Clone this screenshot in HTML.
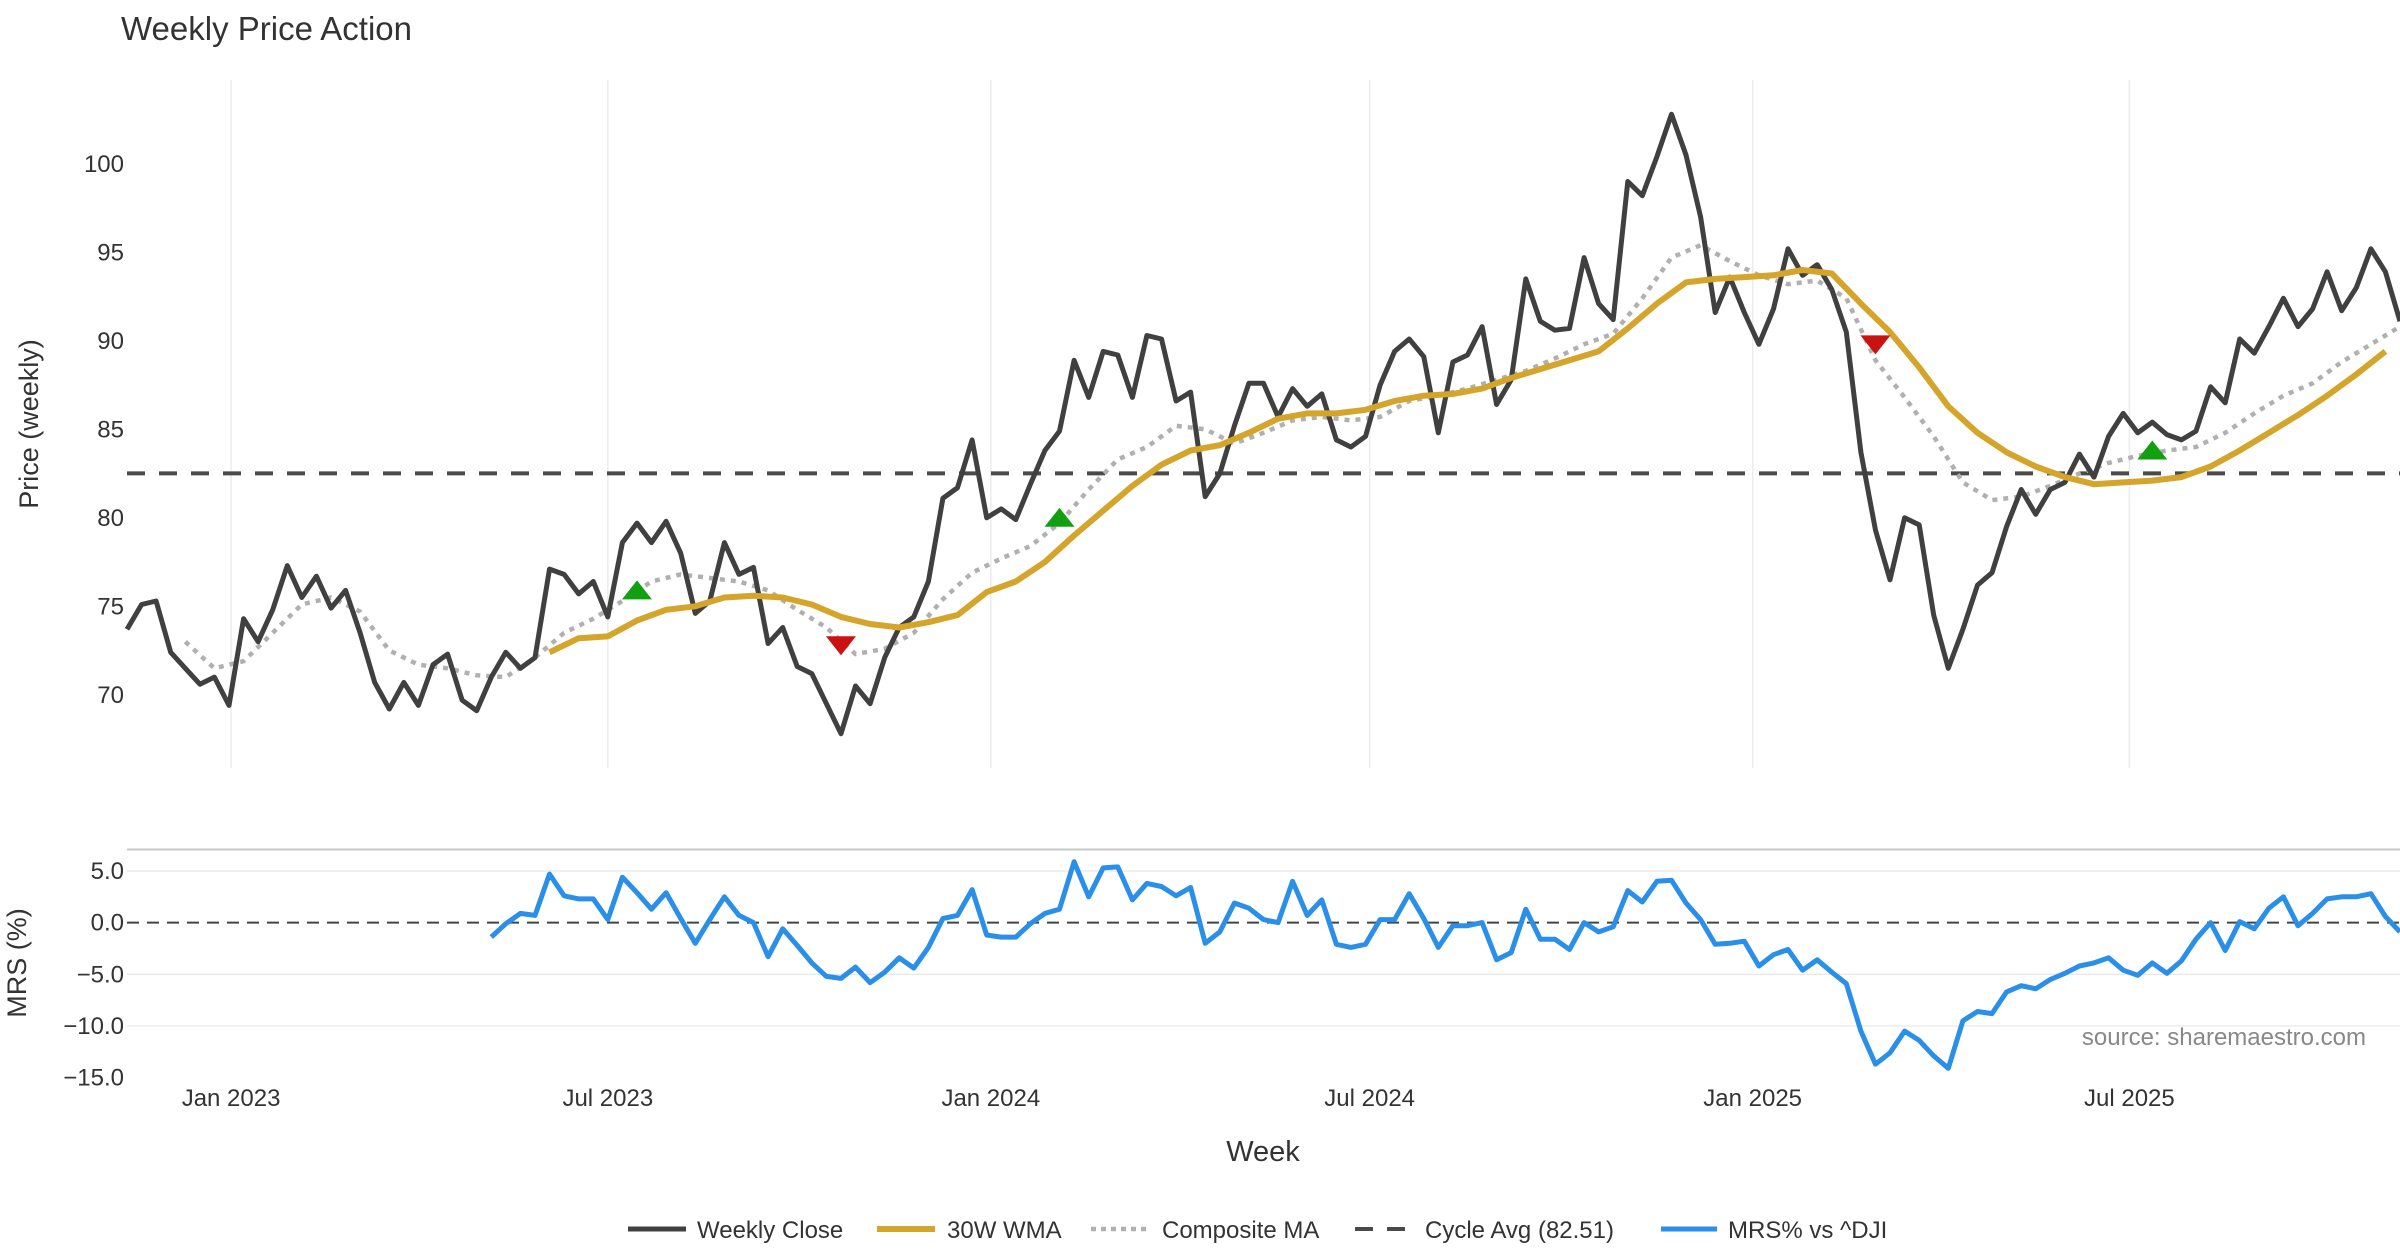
<!DOCTYPE html>
<html><head><meta charset="utf-8"><style>
html,body{margin:0;padding:0;background:#fff;}
svg{display:block;font-family:"Liberation Sans","DejaVu Sans",sans-serif;}
</style></head><body>
<svg id="chart" width="2400" height="1260" viewBox="0 0 2400 1260" xmlns="http://www.w3.org/2000/svg">
<rect width="2400" height="1260" fill="#fff"/>
<text x="121" y="40" font-size="33" fill="#333">Weekly Price Action</text>
<g id="grid"></g>
<g id="topPanel"></g>
<g id="bottomPanel"></g>
<text transform="translate(38,424) rotate(-90)" text-anchor="middle" font-size="27" fill="#333">Price (weekly)</text>
<text transform="translate(26,963) rotate(-90)" text-anchor="middle" font-size="27" fill="#333">MRS (%)</text>
<text x="1263" y="1161" text-anchor="middle" font-size="29" fill="#333">Week</text>
<text x="2366" y="1045" text-anchor="end" font-size="24" fill="#888">source: sharemaestro.com</text>
<g id="legend">
<g><line x1="628" y1="1229" x2="686" y2="1229" stroke="#404040" stroke-width="5"/><text x="697" y="1238" font-size="24" fill="#333">Weekly Close</text></g>
<g><line x1="877" y1="1229" x2="935" y2="1229" stroke="#d4a52a" stroke-width="6"/><text x="947" y="1238" font-size="24" fill="#333">30W WMA</text></g>
<g><line x1="1091" y1="1229" x2="1146" y2="1229" stroke="#b0b0b0" stroke-width="4.5" stroke-dasharray="5 5"/><text x="1162" y="1238" font-size="24" fill="#333">Composite MA</text></g>
<g><line x1="1355" y1="1229" x2="1410" y2="1229" stroke="#4a4a4a" stroke-width="4" stroke-dasharray="18 14"/><text x="1425" y="1238" font-size="24" fill="#333">Cycle Avg (82.51)</text></g>
<g><line x1="1661" y1="1229" x2="1717" y2="1229" stroke="#2a8fe8" stroke-width="5"/><text x="1728" y="1238" font-size="24" fill="#333">MRS% vs ^DJI</text></g>
</g>
</svg>
<script>
const closeVals=[73.7,75.1,75.3,72.4,71.5,70.6,71.0,69.4,74.3,73.0,74.8,77.3,75.5,76.7,74.9,75.9,73.5,70.7,69.2,70.7,69.4,71.7,72.3,69.7,69.1,71.0,72.4,71.5,72.1,77.1,76.8,75.7,76.4,74.4,78.6,79.7,78.6,79.8,78.0,74.6,75.3,78.6,76.8,77.2,72.9,73.8,71.6,71.2,69.5,67.8,70.5,69.5,72.1,73.8,74.4,76.4,81.1,81.7,84.4,80.0,80.5,79.9,81.9,83.8,84.9,88.9,86.8,89.4,89.2,86.8,90.3,90.1,86.6,87.1,81.2,82.5,85.2,87.6,87.6,85.7,87.3,86.3,87.0,84.4,84.0,84.6,87.5,89.4,90.1,89.1,84.8,88.8,89.2,90.8,86.4,87.8,93.5,91.1,90.6,90.7,94.7,92.1,91.2,99.0,98.2,100.4,102.8,100.5,97.0,91.6,93.6,91.6,89.8,91.8,95.2,93.7,94.3,92.9,90.5,83.7,79.3,76.5,80.0,79.6,74.5,71.5,73.7,76.2,76.9,79.5,81.6,80.2,81.6,82.0,83.6,82.3,84.6,85.9,84.8,85.4,84.7,84.4,84.9,87.4,86.5,90.1,89.3,90.8,92.4,90.8,91.8,93.9,91.7,93.0,95.2,93.9,91.1];
const wmaStart=29, wmaStep=2;
const wmaVals=[72.4,73.2,73.3,74.2,74.8,75.0,75.5,75.6,75.5,75.1,74.4,74.0,73.8,74.1,74.5,75.8,76.4,77.5,79.0,80.4,81.8,83.0,83.8,84.1,84.8,85.6,85.9,85.9,86.1,86.6,86.9,87.0,87.3,87.9,88.4,88.9,89.4,90.7,92.1,93.3,93.5,93.6,93.7,94.0,93.8,92.1,90.5,88.5,86.3,84.8,83.7,82.9,82.3,81.9,82.0,82.1,82.3,82.9,83.8,84.8,85.8,86.9,88.1,89.4];
const compStart=4, compStep=2;
const compVals=[73.0,71.5,71.9,73.5,75.1,75.5,74.7,72.5,71.7,71.5,71.1,71.0,72.1,73.5,74.3,75.3,76.4,76.8,76.6,76.4,75.9,74.8,73.8,72.3,72.6,73.5,75.4,76.9,77.7,78.4,79.7,81.6,83.3,84.0,85.2,85.0,84.2,84.8,85.5,85.7,85.5,85.7,86.6,86.9,87.3,87.8,88.3,89.0,89.8,90.4,92.4,94.7,95.4,94.5,93.7,93.2,93.4,92.4,88.9,86.8,84.6,82.0,81.0,81.2,81.8,82.5,83.1,83.5,83.8,84.0,84.8,85.9,86.9,87.6,88.8,89.8,90.8];
const cycleAvg=82.51;
const buyIdx=[35,64,139];
const buyVals=[75.9,80.0,83.8];
const sellIdx=[49,120];
const sellVals=[72.8,89.8];
const mrsStart=25;
const mrsVals=[-1.4,-0.1,0.9,0.7,4.7,2.6,2.3,2.3,0.3,4.4,2.9,1.3,2.9,0.4,-2.0,0.3,2.5,0.7,0.0,-3.3,-0.6,-2.2,-3.9,-5.2,-5.4,-4.3,-5.8,-4.8,-3.4,-4.4,-2.4,0.4,0.7,3.2,-1.2,-1.4,-1.4,-0.1,0.9,1.3,5.9,2.5,5.3,5.4,2.2,3.8,3.5,2.6,3.4,-2.0,-0.9,1.9,1.4,0.3,0.0,4.0,0.7,2.2,-2.1,-2.4,-2.1,0.3,0.3,2.8,0.4,-2.4,-0.3,-0.3,0.0,-3.6,-2.9,1.3,-1.6,-1.6,-2.6,0.0,-0.9,-0.4,3.1,2.0,4.0,4.1,1.9,0.3,-2.1,-2.0,-1.8,-4.2,-3.1,-2.6,-4.6,-3.6,-4.8,-5.9,-10.5,-13.7,-12.6,-10.5,-11.4,-12.9,-14.1,-9.5,-8.6,-8.8,-6.7,-6.1,-6.4,-5.5,-4.9,-4.2,-3.9,-3.4,-4.6,-5.1,-3.9,-4.9,-3.7,-1.6,0.0,-2.7,0.1,-0.6,1.4,2.5,-0.3,0.9,2.3,2.5,2.5,2.8,0.6,-0.9];
const priceTicks=[70,75,80,85,90,95,100];
const mrsTicks=[5,0,-5,-10,-15];
const mrsTickLabels=["5.0","0.0","\u22125.0","\u221210.0","\u221215.0"];
const dateTicks=["2023-01-01","2023-07-01","2024-01-01","2024-07-01","2025-01-01","2025-07-01"];
const dateTickLabels=["Jan 2023","Jul 2023","Jan 2024","Jul 2024","Jan 2025","Jul 2025"];

const NS="http://www.w3.org/2000/svg";
const X0=127,X1=2400,N=closeVals.length;
const xIdx=i=>X0+i*(X1-X0)/(N-1);
const startMs=Date.UTC(2023,0,1)-50*864e5;
const xDate=s=>{const d=new Date(s+"T00:00:00Z").getTime();return xIdx((d-startMs)/(7*864e5));};
const yP=v=>163.8+(100-v)*17.70;
const yM=v=>871+(5-v)*10.33;
function mk(tag,attrs,parent){const e=document.createElementNS(NS,tag);for(const k in attrs)e.setAttribute(k,attrs[k]);parent.appendChild(e);return e;}
const gridG=document.getElementById('grid'),topG=document.getElementById('topPanel'),botG=document.getElementById('bottomPanel');

dateTicks.forEach((d,i)=>{const x=xDate(d);
 const g=mk('line',{x1:x,y1:80,x2:x,y2:768,stroke:'#ececf0','stroke-width':1.5},gridG);
 
 
 const t=mk('text',{x:x,y:1106,'text-anchor':'middle','font-size':24,fill:'#333'},gridG);
 t.textContent=dateTickLabels[i];
 
 
});
priceTicks.forEach(v=>{const t=mk('text',{x:124,y:yP(v)+8,'text-anchor':'end','font-size':24,fill:'#333'},topG);
 t.textContent=v;
 
 });
mrsTicks.forEach((v,i)=>{
 if(v!==0&&v>-15){const l=mk('line',{x1:X0,y1:yM(v),x2:X1,y2:yM(v),stroke:'#e6e6e6','stroke-width':1.2},botG);
 
 }
 const t=mk('text',{x:124,y:yM(v)+8,'text-anchor':'end','font-size':24,fill:'#333'},botG);
 t.textContent=mrsTickLabels[i];
 
 });
const sep=mk('line',{x1:X0,y1:849.5,x2:X1,y2:849.5,stroke:'#c8c8c8','stroke-width':2},botG);



function poly(pts,attrs,parent,name){const p=mk('polyline',Object.assign({points:pts.map(p=>p[0].toFixed(1)+','+p[1].toFixed(1)).join(' '),fill:'none','stroke-linejoin':'round'},attrs),parent);
 
 return p;}

const cyc=mk('line',{x1:X0,y1:yP(cycleAvg),x2:X1,y2:yP(cycleAvg),stroke:'#4a4a4a','stroke-width':4,'stroke-dasharray':'18 14'},topG);


poly(compVals.map((v,i)=>[xIdx(compStart+i*compStep),yP(v)]),{stroke:'#b0b0b0','stroke-width':4.5,'stroke-dasharray':'5 6'},topG,'composite-ma-line');
poly(closeVals.map((v,i)=>[xIdx(i),yP(v)]),{stroke:'#404040','stroke-width':5},topG,'weekly-close-line');
poly(wmaVals.map((v,i)=>[xIdx(wmaStart+i*wmaStep),yP(v)]),{stroke:'#d4a52a','stroke-width':6},topG,'wma-line');
buyIdx.forEach((ix,i)=>{const x=xIdx(ix),y=yP(buyVals[i]);
 const p=mk('polygon',{points:`${x-15},${y+9} ${x+15},${y+9} ${x},${y-10}`,fill:'#12a012'},topG);
 
 });
sellIdx.forEach((ix,i)=>{const x=xIdx(ix),y=yP(sellVals[i]);
 const p=mk('polygon',{points:`${x-15},${y-9} ${x+15},${y-9} ${x},${y+10}`,fill:'#cc1111'},topG);
 
 });

const zl=mk('line',{x1:X0,y1:yM(0),x2:X1,y2:yM(0),stroke:'#444','stroke-width':2,'stroke-dasharray':'12 8'},botG);


poly(mrsVals.map((v,i)=>[xIdx(mrsStart+i),yM(v)]),{stroke:'#2a8fe8','stroke-width':5},botG,'mrs-line');
</script>
</body></html>
